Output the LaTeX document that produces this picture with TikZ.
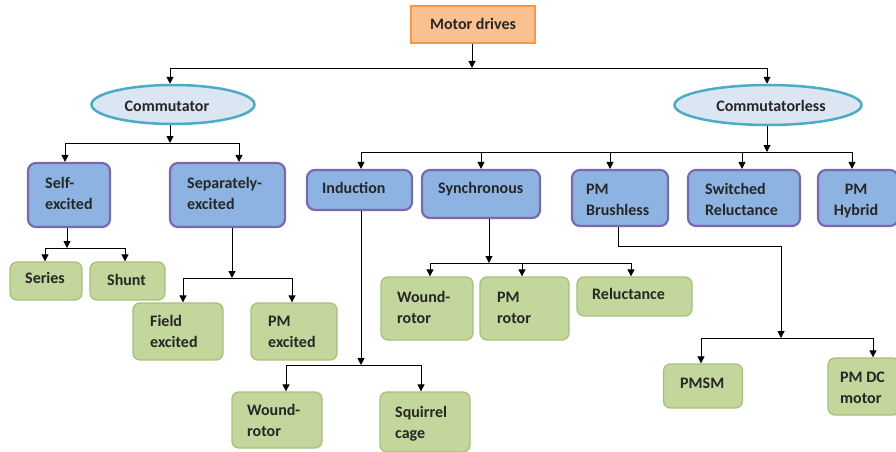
\documentclass[tikz,border=0pt]{standalone}
\usepackage{fontspec}
\setmainfont{Carlito}
\usetikzlibrary{arrows.meta,shapes.geometric}
\definecolor{orF}{HTML}{FAC08F}
\definecolor{orB}{HTML}{F79646}
\definecolor{elF}{HTML}{DCE6F2}
\definecolor{elB}{HTML}{4BACC6}
\definecolor{blF}{HTML}{8DB3E2}
\definecolor{blB}{HTML}{7B68AE}
\definecolor{grF}{HTML}{C3D69B}
\definecolor{grB}{HTML}{A6C27A}
\definecolor{txt}{HTML}{262626}
\tikzset{
  orbox/.style={draw=orB, fill=orF, line width=1.5pt, inner sep=0pt},
  elbox/.style={ellipse, draw=elB, fill=elF, line width=2.5pt, inner sep=0pt},
  blbox/.style={draw=blB, fill=blF, line width=2.2pt, rounded corners=8pt, inner sep=0pt},
  grbox/.style={draw=grB, fill=grF, line width=1.3pt, rounded corners=7pt, inner sep=0pt},
  lbl/.style={font=\bfseries\fontsize{16}{21}\selectfont, text=txt, inner sep=0pt, align=left, anchor=base west},
  clbl/.style={font=\bfseries\fontsize{16}{21}\selectfont, text=txt, inner sep=0pt, align=center, anchor=base},
  ln/.style={line width=1pt, draw=black},
  arr/.style={ln, -{Triangle[width=7pt,length=7pt]}}
}
\begin{document}
\begin{tikzpicture}[x=1pt,y=-1pt]
\useasboundingbox (0,0) rectangle (896,452);
% ---- boxes
\node[orbox, minimum width=124pt, minimum height=37pt] (motor) at (473,24.5) {};
\node[elbox, minimum width=163pt, minimum height=39pt] (comm) at (173,104.5) {};
\node[elbox, minimum width=187pt, minimum height=40pt] (cless) at (768,105) {};
\node[blbox, minimum width=82pt, minimum height=64pt] (self) at (69,195) {};
\node[blbox, minimum width=115pt, minimum height=64pt] (sep) at (227.5,195) {};
\node[blbox, minimum width=105pt, minimum height=40pt] (ind) at (359.5,190) {};
\node[blbox, minimum width=118pt, minimum height=48pt] (syn) at (481,194) {};
\node[blbox, minimum width=96pt, minimum height=56pt] (pmb) at (620,198) {};
\node[blbox, minimum width=112pt, minimum height=56pt] (sr) at (744,198) {};
\node[blbox, minimum width=80pt, minimum height=56pt] (pmh) at (858,198) {};
\node[grbox, minimum width=72pt, minimum height=38pt] (series) at (46,281) {};
\node[grbox, minimum width=75pt, minimum height=38pt] (shunt) at (127.5,281) {};
\node[grbox, minimum width=90pt, minimum height=57pt] (field) at (178,331.5) {};
\node[grbox, minimum width=86pt, minimum height=57pt] (pmexc) at (294,331.5) {};
\node[grbox, minimum width=92pt, minimum height=63pt] (wr) at (427,308.5) {};
\node[grbox, minimum width=89pt, minimum height=63pt] (pmr) at (524.5,308.5) {};
\node[grbox, minimum width=115pt, minimum height=39pt] (rel) at (634.5,296.5) {};
\node[grbox, minimum width=90pt, minimum height=56pt] (wr2) at (277,420) {};
\node[grbox, minimum width=90pt, minimum height=60pt] (sq) at (425,422) {};
\node[grbox, minimum width=79pt, minimum height=44pt] (pmsm) at (703,386) {};
\node[grbox, minimum width=72pt, minimum height=57pt] (pmdc) at (864,386.5) {};
% ---- labels (base = baseline of the last line)
\node[clbl] (t-motor) at (473,30) {Motor drives};
\node[clbl] (t-comm) at (167,111) {Commutator};
\node[clbl] (t-cless) at (771,111) {Commutatorless};
\node[lbl] (t-self) at (45,209) {Self-\\excited};
\node[lbl] (t-sep) at (187,209) {Separately-\\excited};
\node[lbl] (t-ind) at (322,193) {Induction};
\node[lbl] (t-syn) at (438,193) {Synchronous};
\node[lbl] (t-pmb) at (586,215) {PM\\Brushless};
\node[lbl] (t-sr) at (705,215) {Switched\\Reluctance};
\node[clbl] (t-pmh) at (856,215) {PM\\Hybrid};
\node[lbl] (t-series) at (25,283) {Series};
\node[lbl] (t-shunt) at (107,285) {Shunt};
\node[lbl] (t-field) at (150,347) {Field\\excited};
\node[lbl] (t-pmexc) at (268,347) {PM\\excited};
\node[lbl] (t-wr) at (397,323) {Wound-\\rotor};
\node[lbl] (t-pmr) at (497,323) {PM\\rotor};
\node[lbl] (t-rel) at (592,299) {Reluctance};
\node[lbl] (t-wr2) at (247,436) {Wound-\\rotor};
\node[lbl] (t-sq) at (395,438) {Squirrel\\cage};
\node[lbl] (t-pmsm) at (680,388) {PMSM};
\node[lbl] (t-pmdc) at (840,403) {PM DC\\motor};
% ---- junction coordinates
\coordinate (j0) at (472,68);
\coordinate (j0a) at (170,68);
\coordinate (j0b) at (767,68);
\coordinate (j1) at (170,143);
\coordinate (j1a) at (65,143);
\coordinate (j1b) at (239,143);
\coordinate (j2) at (767,152);
\coordinate (j2a) at (361,152);
\coordinate (j2b) at (481,152);
\coordinate (j2c) at (610,152);
\coordinate (j2d) at (742,152);
\coordinate (j2e) at (852,152);
\coordinate (j3) at (67,248);
\coordinate (j3a) at (45,248);
\coordinate (j3b) at (125,248);
\coordinate (j4) at (232,278);
\coordinate (j4a) at (183,278);
\coordinate (j4b) at (292,278);
\coordinate (j5) at (489,263);
\coordinate (j5a) at (430,263);
\coordinate (j5b) at (522,263);
\coordinate (j5c) at (631,263);
\coordinate (j6) at (361,365);
\coordinate (j6a) at (286,365);
\coordinate (j6b) at (421,365);
\coordinate (j7s) at (618,246);
\coordinate (j7t) at (781,246);
\coordinate (j7) at (781,338);
\coordinate (j7a) at (701,338);
\coordinate (j7b) at (873,338);
% ---- connectors
\draw[arr] (motor.south -| j0) -- (j0);
\draw[ln] (j0a) -- (j0b);
\draw[arr] (j0a) -- (comm.north -| j0a);
\draw[arr] (j0b) -- (cless.north -| j0b);
% commutator
\draw[arr] (comm.south -| j1) -- (j1);
\draw[ln] (j1a) -- (j1b);
\draw[arr] (j1a) -- (self.north -| j1a);
\draw[arr] (j1b) -- (sep.north -| j1b);
% self-excited
\draw[arr] (self.south -| j3) -- (j3);
\draw[ln] (j3a) -- (j3b);
\draw[arr] (j3a) -- (series.north -| j3a);
\draw[arr] (j3b) -- (shunt.north -| j3b);
% separately
\draw[arr] (sep.south -| j4) -- (j4);
\draw[ln] (j4a) -- (j4b);
\draw[arr] (j4a) -- (field.north -| j4a);
\draw[arr] (j4b) -- (pmexc.north -| j4b);
% commutatorless
\draw[arr] (cless.south -| j2) -- (j2);
\draw[ln] (j2a) -- (j2e);
\draw[arr] (j2a) -- (ind.north -| j2a);
\draw[arr] (j2b) -- (syn.north -| j2b);
\draw[arr] (j2c) -- (pmb.north -| j2c);
\draw[arr] (j2d) -- (sr.north -| j2d);
\draw[arr] (j2e) -- (pmh.north -| j2e);
% synchronous
\draw[arr] (syn.south -| j5) -- (j5);
\draw[ln] (j5a) -- (j5c);
\draw[arr] (j5a) -- (wr.north -| j5a);
\draw[arr] (j5b) -- (pmr.north -| j5b);
\draw[arr] (j5c) -- (rel.north -| j5c);
% induction
\draw[arr] (ind.south -| j6) -- (j6);
\draw[ln] (j6a) -- (j6b);
\draw[arr] (j6a) -- (wr2.north -| j6a);
\draw[arr] (j6b) -- (sq.north -| j6b);
% PM brushless
\draw[arr] (pmb.south -| j7s) -- (j7s) -- (j7t) -- (j7);
\draw[ln] (j7a) -- (j7b);
\draw[arr] (j7a) -- (pmsm.north -| j7a);
\draw[arr] (j7b) -- (pmdc.north -| j7b);
\end{tikzpicture}
\end{document}
